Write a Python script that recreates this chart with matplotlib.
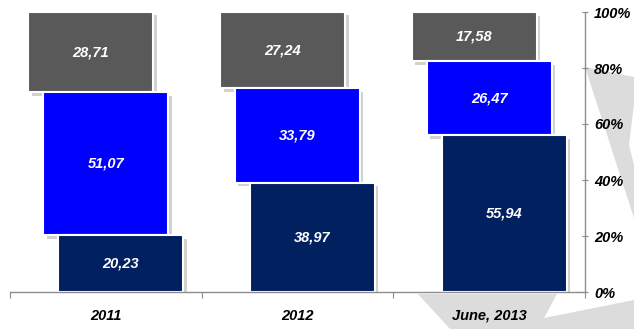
import matplotlib
matplotlib.use("Agg")
import matplotlib.pyplot as plt
import matplotlib.patheffects as pe
from matplotlib.patches import Polygon

## data
categories = ["2011", "2012", "June, 2013"]
navy_vals = [20.23, 38.97, 55.94]
blue_vals = [51.07, 33.79, 26.47]
gray_vals = [28.71, 27.24, 17.58]
y_ticks = [0, 20, 40, 60, 80, 100]

W, H = 634, 329
fig = plt.figure(figsize=(W / 100, H / 100), dpi=100)

## decorative light grey arrow shapes behind the chart (pixel coords, y down)
def px(poly):
    return [(x / W, 1 - y / H) for x, y in poly]

bg_shapes = [
    [(585, 67), (634, 77), (634, 104), (629, 145), (634, 165), (634, 218)],
    [(418, 294), (557, 294), (544, 318), (634, 300), (634, 329), (450, 329)],
]
for s in bg_shapes:
    fig.patches.append(Polygon(px(s), closed=True, transform=fig.transFigure,
                               facecolor="#dcdcdc", edgecolor="none", zorder=0))

ax = fig.add_axes([10 / W, (H - 292) / H, 575 / W, 280 / H])
ax.set_facecolor("none")
ax.set_zorder(1)

font = ["Liberation Sans", "DejaVu Sans"]
shadow = [pe.SimplePatchShadow(offset=(2.5, -2.5), shadow_rgbFace="0.6", alpha=0.45), pe.Normal()]

bw = 0.652
off = 0.078
x = list(range(len(categories)))

## top segment first so the lower ones cover its shadow
segments = [
    (gray_vals, "#595959", -off, [n + b for n, b in zip(navy_vals, blue_vals)]),
    (blue_vals, "#0000ff", 0.0, navy_vals),
    (navy_vals, "#002060", off, [0] * len(categories)),
]
for z, (vals, color, dx, bottoms) in enumerate(segments):
    xs = [i + dx for i in x]
    bars = ax.bar(xs, vals, width=bw, bottom=bottoms, color=color,
                  edgecolor="white", linewidth=1.5, zorder=2 + z)
    for b in bars:
        b.set_path_effects(shadow)
    for xi, v, b0 in zip(xs, vals, bottoms):
        ax.text(xi, b0 + v / 2, f"{v:.2f}".replace(".", ","), ha="center", va="center",
                color="white", fontsize=10.5, fontweight="bold", fontstyle="italic",
                family=font, zorder=10)

ax.set_xlim(-0.5, 2.5)
ax.set_ylim(0, 100)

for sp in ["left", "top"]:
    ax.spines[sp].set_visible(False)
for sp in ["bottom", "right"]:
    ax.spines[sp].set_color("#8c8c8c")
    ax.spines[sp].set_linewidth(1.0)
    ax.spines[sp].set_zorder(12)

ax.set_xticks([-0.5, 0.5, 1.5, 2.5])
ax.set_xticklabels([])
ax.set_xticks(x, minor=True)
ax.set_xticklabels(categories, minor=True, fontsize=10.5, fontweight="bold",
                   fontstyle="italic", family=font)
ax.tick_params(axis="x", which="major", length=4, color="#8c8c8c", direction="out")
ax.tick_params(axis="x", which="minor", length=0, pad=12)

ax.yaxis.tick_right()
ax.set_yticks(y_ticks)
ax.set_yticklabels([f"{t}%" for t in y_ticks], fontsize=10.5, fontweight="bold",
                   fontstyle="italic", family=font)
ax.tick_params(axis="y", length=5, color="#8c8c8c", direction="inout", pad=4)

fig.savefig("out.png", dpi=100)
